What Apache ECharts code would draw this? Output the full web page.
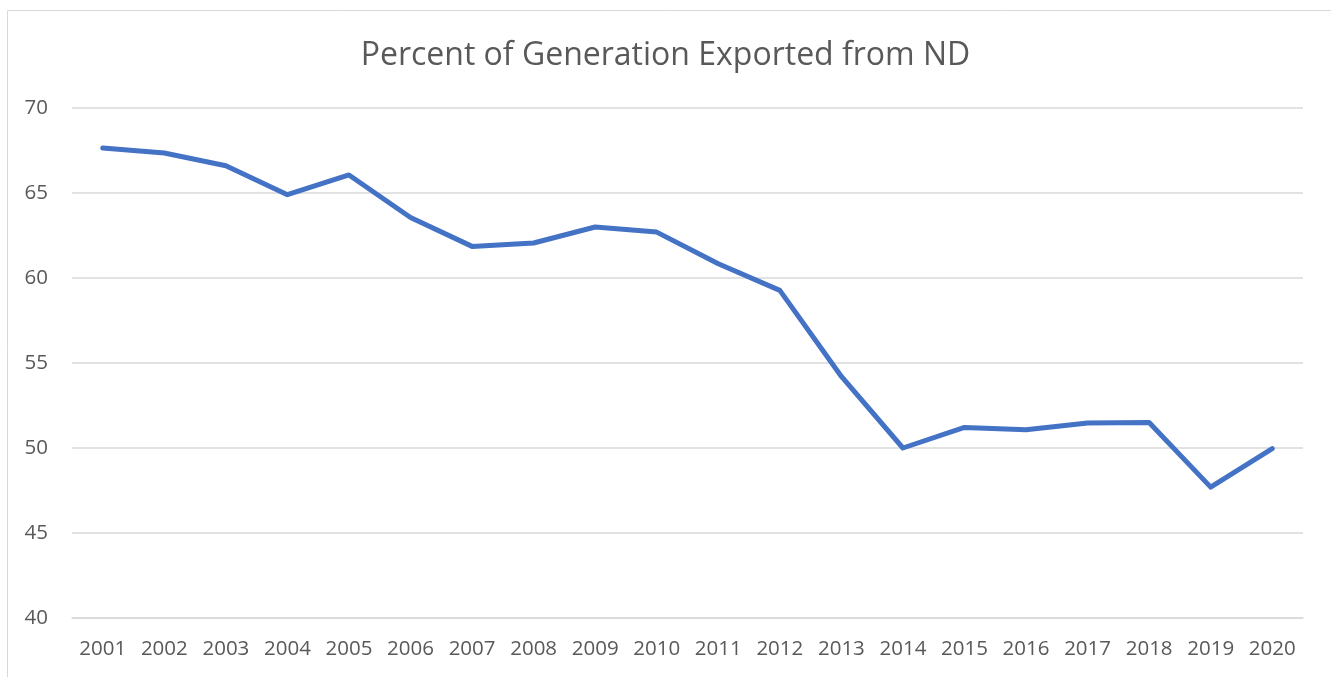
<!DOCTYPE html>
<html>
<head>
<meta charset="utf-8">
<script src="https://cdn.jsdelivr.net/npm/echarts@6/dist/echarts.min.js"></script>
<style>
  html, body { margin: 0; padding: 0; background: #fff; }
  #myChartMain { width: 1331px; height: 677px; }
</style>
</head>
<body>
<div id="myChartMain"></div>
<script>
// data
var years = ['2001', '2002', '2003', '2004', '2005', '2006', '2007', '2008', '2009', '2010',
             '2011', '2012', '2013', '2014', '2015', '2016', '2017', '2018', '2019', '2020'];
var pctExported = [67.65, 67.35, 66.6, 64.9, 66.06, 63.56, 61.86, 62.06, 63.0, 62.7,
                   60.84, 59.27, 54.21, 50.0, 51.21, 51.08, 51.47, 51.5, 47.7, 49.96];
var yTicks = { min: 40, max: 70, interval: 5 };

var myChart = echarts.init(document.getElementById('myChartMain'));
var option = {
    animation : false,
    title : {
        text : 'Percent of Generation Exported from ND',
        left : 'center',
        top : 35,
        textStyle : {
            fontFamily : 'Open Sans',
            fontWeight : 'normal',
            fontSize : 32,
            color : '#595959'
        }
    },
    graphic : [ {
        type : 'rect',
        shape : { x : 7.5, y : 10.5, width : 1340, height : 700 },
        style : { fill : 'none', stroke : '#d9d9d9', lineWidth : 1 },
        silent : true
    } ],
    grid : {
        left : 72,
        right : 28,
        top : 108,
        bottom : 59
    },
    xAxis : {
        type : 'category',
        data : years,
        boundaryGap : true,
        axisLine : { lineStyle : { color : '#d9d9d9', width : 1.5 } },
        axisTick : { show : false },
        axisLabel : {
            margin : 21,
            fontFamily : 'Open Sans',
            fontSize : 20.5,
            color : '#595959'
        }
    },
    yAxis : {
        type : 'value',
        min : yTicks.min,
        max : yTicks.max,
        interval : yTicks.interval,
        axisLine : { show : false },
        axisTick : { show : false },
        splitLine : { lineStyle : { color : '#d9d9d9', width : 1.5 } },
        axisLabel : {
            margin : 24,
            fontFamily : 'Open Sans',
            fontSize : 20.5,
            color : '#595959'
        }
    },
    series : [ {
        name : 'Percent exported',
        type : 'line',
        data : pctExported,
        symbol : 'none',
        lineStyle : { color : '#4472C4', width : 5, cap : 'round', join : 'round' }
    } ]
};
myChart.setOption(option);
</script>
</body>
</html>
